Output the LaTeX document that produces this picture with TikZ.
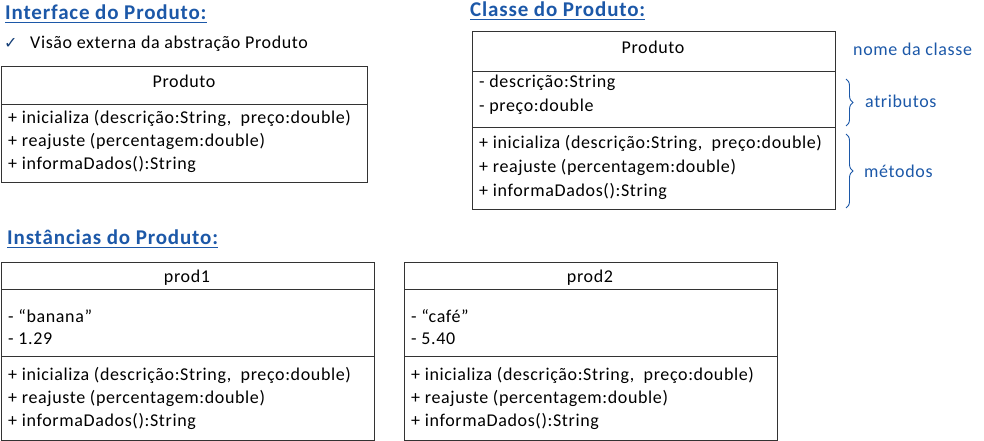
\documentclass[tikz,border=0pt]{standalone}
\usepackage{fontspec}
\setmainfont{Carlito}
\newfontfamily\symfont{DejaVu Sans}
\newfontfamily\bodyfont[LetterSpace=3.5]{Carlito}
\newfontfamily\headfont[LetterSpace=4.0]{Carlito}
\usetikzlibrary{decorations.pathreplacing}
\definecolor{ublue}{RGB}{28,88,168}
\tikzset{
  umlbox/.style={draw=black!80, line width=0.9pt},
  sep/.style={draw=black!80, line width=0.9pt},
  txt/.style={anchor=west, inner sep=0pt, font=\bodyfont\fontsize{18}{20}\selectfont},
  ctxt/.style={inner sep=0pt, font=\bodyfont\fontsize{18}{20}\selectfont},
  heading/.style={anchor=west, inner sep=0pt, text=ublue, font=\headfont\fontsize{21}{23}\selectfont\bfseries},
  note/.style={anchor=west, inner sep=0pt, text=ublue, font=\bodyfont\fontsize{18}{20}\selectfont},
  ul/.style={draw=ublue, line width=0.9pt},
  bracestyle/.style={draw=ublue, line width=0.9pt, decorate, decoration={brace, amplitude=7pt}}
}
\begin{document}
\begin{tikzpicture}[x=1pt,y=-1pt]
\useasboundingbox (0,0) rectangle (984,441);

% ---- Interface ----
\node[heading] (h1) at (5,12) {Interface do Produto:};
\draw[ul] (h1.south west) ++(0,3) coordinate (u1a) -- (h1.south east |- u1a);
\node[anchor=west, inner sep=0pt, text=ublue!70!black, font=\symfont\fontsize{16}{18}\selectfont] (chk) at (4,43) {✓};
\node[txt] (vis) at (30,44) {Visão externa da abstração Produto};

\node[umlbox, anchor=north west, minimum width=366pt, minimum height=116pt, inner sep=0pt] (ibox) at (1,66) {};
\coordinate (i1l) at (1,104); \coordinate (i1r) at (367,104);
\draw[sep] (i1l) -- (i1r);
\node[ctxt] (iname) at (184,81) {Produto};
\node[txt] (im1) at (8,118) {+ inicializa (descrição:String,\ \ preço:double)};
\node[txt] (im2) at (8,141) {+ reajuste (percentagem:double)};
\node[txt] (im3) at (8,164) {+ informaDados():String};

% ---- Classe ----
\node[heading] (h2) at (470,9) {Classe do Produto:};
\draw[ul] (h2.south west) ++(0,3) coordinate (u2a) -- (h2.south east |- u2a);

\node[umlbox, anchor=north west, minimum width=363pt, minimum height=178pt, inner sep=0pt] (cbox) at (472,31) {};
\coordinate (c1l) at (472,71); \coordinate (c1r) at (835,71);
\coordinate (c2l) at (472,127); \coordinate (c2r) at (835,127);
\draw[sep] (c1l) -- (c1r);
\draw[sep] (c2l) -- (c2r);
\node[ctxt] (cname) at (653,47) {Produto};
\node[txt] (ca1) at (479,83) {- descrição:String};
\node[txt] (ca2) at (479,107) {- preço:double};
\node[txt] (cm1) at (479,143) {+ inicializa (descrição:String,\ \ preço:double)};
\node[txt] (cm2) at (479,167) {+ reajuste (percentagem:double)};
\node[txt] (cm3) at (479,191) {+ informaDados():String};

\node[note] (nome) at (853,49) {nome da classe};
\coordinate (b1t) at (846,79); \coordinate (b1b) at (846,126);
\draw[bracestyle] (b1t) -- (b1b);
\node[note] (atr) at (865,101) {atributos};
\coordinate (b2t) at (846,134); \coordinate (b2b) at (846,208);
\draw[bracestyle] (b2t) -- (b2b);
\node[note] (met) at (864,171) {métodos};

% ---- Instancias ----
\node[heading] (h3) at (7,237) {Instâncias do Produto:};
\draw[ul] (h3.south west) ++(0,3) coordinate (u3a) -- (h3.south east |- u3a);

% prod1
\node[umlbox, anchor=north west, minimum width=373pt, minimum height=178pt, inner sep=0pt] (p1box) at (1,262) {};
\coordinate (p1al) at (1,289); \coordinate (p1ar) at (374,289);
\coordinate (p1bl) at (1,356); \coordinate (p1br) at (374,356);
\draw[sep] (p1al) -- (p1ar);
\draw[sep] (p1bl) -- (p1br);
\node[ctxt] (p1name) at (187,278) {prod1};
\node[txt] (p1a1) at (8,316) {- “banana”};
\node[txt] (p1a2) at (8,339) {- 1.29};
\node[txt] (p1m1) at (8,375) {+ inicializa (descrição:String,\ \ preço:double)};
\node[txt] (p1m2) at (8,398) {+ reajuste (percentagem:double)};
\node[txt] (p1m3) at (8,421) {+ informaDados():String};

% prod2
\node[umlbox, anchor=north west, minimum width=373pt, minimum height=178pt, inner sep=0pt] (p2box) at (404,262) {};
\coordinate (p2al) at (404,289); \coordinate (p2ar) at (777,289);
\coordinate (p2bl) at (404,356); \coordinate (p2br) at (777,356);
\draw[sep] (p2al) -- (p2ar);
\draw[sep] (p2bl) -- (p2br);
\node[ctxt] (p2name) at (590,278) {prod2};
\node[txt] (p2a1) at (411,316) {- “café”};
\node[txt] (p2a2) at (411,339) {- 5.40};
\node[txt] (p2m1) at (411,375) {+ inicializa (descrição:String,\ \ preço:double)};
\node[txt] (p2m2) at (411,398) {+ reajuste (percentagem:double)};
\node[txt] (p2m3) at (411,421) {+ informaDados():String};
\end{tikzpicture}
\end{document}
